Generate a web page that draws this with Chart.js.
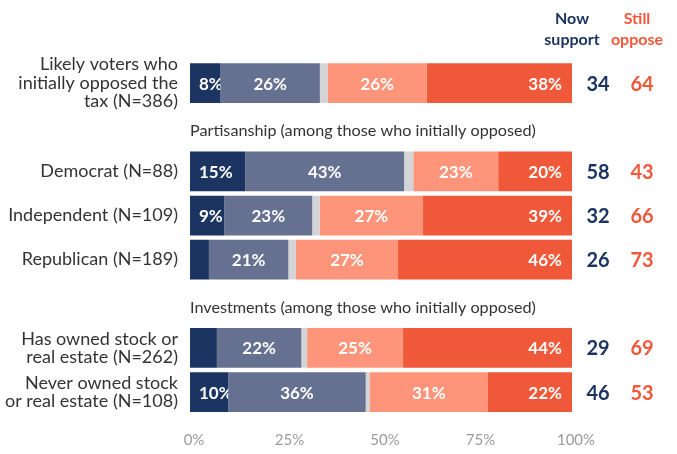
<!DOCTYPE html>
<html>
<head>
<meta charset="utf-8">
<script src="https://cdn.jsdelivr.net/npm/chart.js@4/dist/chart.umd.min.js"></script>
<style>
  html, body { margin: 0; padding: 0; background: #fff; }
  #wrap { width: 677px; height: 454px; position: relative; }
</style>
</head>
<body>
<div id="wrap"><canvas id="myChart"></canvas></div>
<script>
// Zeilen (leere Einträge = Platz für Abschnittsüberschriften)
const categories = [
    ['Likely voters who', 'initially opposed the', 'tax (N=386)'],
    '',
    'Democrat (N=88)',
    'Independent (N=109)',
    'Republican (N=189)',
    '',
    ['Has owned stock or', 'real estate (N=262)'],
    ['Never owned stock', 'or real estate (N=108)']
];
const sectionTitles = ['', 'Partisanship (among those who initially opposed)', '', '', '',
    'Investments (among those who initially opposed)', '', ''];

// Antwortanteile in Prozent
const strongSupport   = [8,  null, 15,  9,  5, null,  7, 10];
const somewhatSupport = [26, null, 43, 23, 21, null, 22, 36];
const dontKnow        = [2,  null, 2.5, 2,  2, null, 1.5, 1];
const somewhatOppose  = [26, null, 23, 27, 27, null, 25, 31];
const strongOppose    = [38, null, 20, 39, 46, null, 44, 22];

// Summen rechts neben den Balken
const nowSupport  = [34, null, 58, 32, 26, null, 29, 46];
const stillOppose = [64, null, 43, 66, 73, null, 69, 53];

const xTicks = [0, 25, 50, 75, 100];

const NAVY = '#1c3461';
const RED = '#f0583a';
const FONT = 'Lato, "Open Sans", sans-serif';

const series = [
    { values: strongSupport,   color: NAVY,      align: 'left' },
    { values: somewhatSupport, color: '#667192', align: 'center' },
    { values: dontKnow,        color: '#d3d4d6', align: null },
    { values: somewhatOppose,  color: '#fe9479', align: 'center' },
    { values: strongOppose,    color: RED,       align: 'right' }
];

// Jede Zeile auf 100 % skalieren (Rundungsdifferenzen)
const rowTotals = categories.map((c, i) =>
    series.reduce((sum, s) => sum + (s.values[i] || 0), 0));

function share(values) {
    return values.map((v, i) => v === null ? null : v / rowTotals[i] * 100);
}

// Prozentwerte in die Segmente schreiben
const segmentLabels = {
    id: 'segmentLabels',
    afterDatasetsDraw(chart) {
        const ctx = chart.ctx;
        ctx.save();
        ctx.font = 'bold 17px ' + FONT;
        ctx.fillStyle = '#fff';
        ctx.textBaseline = 'middle';
        series.forEach((s, di) => {
            if (!s.align) return;
            chart.getDatasetMeta(di).data.forEach((bar, i) => {
                const v = s.values[i];
                if (v === null || v < 8) return;
                const left = Math.min(bar.base, bar.x);
                const right = Math.max(bar.base, bar.x);
                const text = v + '%';
                ctx.save();
                ctx.beginPath();
                ctx.rect(left, bar.y - bar.height / 2, right - left, bar.height);
                ctx.clip();
                if (s.align === 'left') {
                    ctx.textAlign = 'left';
                    ctx.fillText(text, left + 9, bar.y + 1);
                } else if (s.align === 'right') {
                    ctx.textAlign = 'right';
                    ctx.fillText(text, right - 10, bar.y + 1);
                } else {
                    ctx.textAlign = 'center';
                    ctx.fillText(text, (left + right) / 2, bar.y + 1);
                }
                ctx.restore();
            });
        });
        ctx.restore();
    }
};

// Spalten "Now support" / "Still oppose" und Abschnittsüberschriften
const sideText = {
    id: 'sideText',
    afterDraw(chart) {
        const ctx = chart.ctx;
        const y = chart.scales.y;
        const area = chart.chartArea;
        ctx.save();
        ctx.textBaseline = 'middle';
        ctx.textAlign = 'center';

        ctx.font = 'bold 16px ' + FONT;
        ctx.fillStyle = NAVY;
        ctx.fillText('Now', 572, 19);
        ctx.fillText('support', 572, 40);
        ctx.fillStyle = RED;
        ctx.fillText('Still', 637, 19);
        ctx.fillText('oppose', 637, 40);

        ctx.font = 'bold 20px ' + FONT;
        categories.forEach((c, i) => {
            if (nowSupport[i] === null) return;
            const py = y.getPixelForValue(i) + 1;
            ctx.fillStyle = NAVY;
            ctx.fillText(nowSupport[i], 598, py);
            ctx.fillStyle = RED;
            ctx.fillText(stillOppose[i], 642, py);
        });

        ctx.font = '16.2px ' + FONT;
        ctx.fillStyle = '#333';
        ctx.textAlign = 'left';
        sectionTitles.forEach((t, i) => {
            if (!t) return;
            ctx.fillText(t, area.left, y.getPixelForValue(i) + 4);
        });
        ctx.restore();
    }
};

const ctx = document.getElementById('myChart').getContext('2d');
new Chart(ctx, {
    type: 'bar',
    data: {
        labels: categories,
        datasets: series.map(s => ({
            data: share(s.values),
            backgroundColor: s.color,
            borderWidth: 0,
            barPercentage: 0.9,
            categoryPercentage: 1
        }))
    },
    options: {
        indexAxis: 'y',
        responsive: true,
        maintainAspectRatio: false,
        animation: false,
        layout: { padding: { top: 61, right: 105, bottom: 0, left: 0 } },
        plugins: {
            legend: { display: false },
            tooltip: { enabled: false }
        },
        scales: {
            x: {
                stacked: true,
                min: 0,
                max: 100,
                grid: { display: false, drawTicks: false },
                border: { display: false },
                afterBuildTicks: scale => { scale.ticks = xTicks.map(v => ({ value: v })); },
                afterFit: scale => { scale.height = 33; },
                ticks: {
                    padding: 17,
                    labelOffset: 4,
                    color: '#9b9b9b',
                    font: { family: FONT, size: 15 },
                    callback: v => v + '%'
                }
            },
            y: {
                stacked: true,
                grid: { display: false, drawTicks: false },
                border: { display: false },
                afterFit: scale => { scale.width = 190; },
                ticks: {
                    autoSkip: false,
                    padding: 12,
                    color: '#333',
                    font: { family: FONT, size: 18, lineHeight: 1.03 }
                }
            }
        }
    },
    plugins: [segmentLabels, sideText]
});
</script>
</body>
</html>
